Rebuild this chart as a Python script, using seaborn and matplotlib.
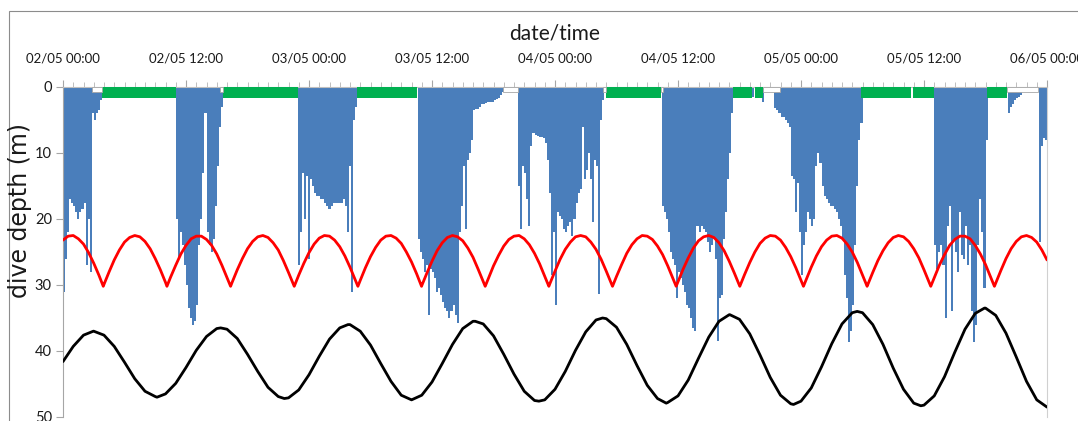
import numpy as np
import pandas as pd
import matplotlib
matplotlib.use("Agg")
import matplotlib.pyplot as plt
from matplotlib.patches import Rectangle
import seaborn as sns

# ---------------------------------------------------------------------------
# Time axis: hours after 02/05 00:00, labelled every 12 h
tick_hours = [0, 12, 24, 36, 48, 60, 72, 84, 96]
tick_labels = ["02/05 00:00", "02/05 12:00", "03/05 00:00", "03/05 12:00",
               "04/05 00:00", "04/05 12:00", "05/05 00:00", "05/05 12:00",
               "06/05 00:00"]

# Red curve (rectified tidal signal), sampled every half hour
red_step = 0.5
red_depth = [
    23.2, 22.6, 22.5, 23.0, 23.8, 25.1, 26.7, 28.5, 29.9, 28.0,
    26.2, 24.7, 23.5, 22.8, 22.5, 22.7, 23.4, 24.5, 26.0, 27.7,
    29.6, 28.8, 27.0, 25.3, 24.0, 23.0, 22.6, 22.6, 23.1, 24.0,
    25.3, 27.0, 28.9, 29.6, 27.7, 26.0, 24.5, 23.4, 22.7, 22.5,
    22.8, 23.6, 24.7, 26.3, 28.1, 30.0, 28.5, 26.7, 25.1, 23.8,
    22.9, 22.5, 22.6, 23.2, 24.2, 25.6, 27.3, 29.2, 29.3, 27.4,
    25.7, 24.3, 23.2, 22.6, 22.5, 22.9, 23.7, 25.0, 26.5, 28.3,
    30.1, 28.2, 26.4, 24.8, 23.6, 22.8, 22.5, 22.7, 23.3, 24.4,
    25.8, 27.6, 29.5, 29.0, 27.1, 25.5, 24.1, 23.1, 22.6, 22.5,
    23.0, 23.9, 25.2, 26.8, 28.7, 29.8, 27.9, 26.1, 24.6, 23.5,
    22.7, 22.5, 22.7, 23.5, 24.6, 26.1, 27.9, 29.8, 28.7, 26.9,
    25.2, 23.9, 23.0, 22.5, 22.6, 23.1, 24.1, 25.4, 27.1, 29.0,
    29.5, 27.6, 25.9, 24.4, 23.3, 22.7, 22.5, 22.8, 23.6, 24.8,
    26.4, 28.2, 30.1, 28.4, 26.6, 25.0, 23.7, 22.9, 22.5, 22.6,
    23.2, 24.3, 25.7, 27.4, 29.3, 29.2, 27.3, 25.6, 24.2, 23.2,
    22.6, 22.5, 22.9, 23.8, 25.0, 26.6, 28.5, 30.0, 28.1, 26.3,
    24.8, 23.6, 22.8, 22.5, 22.7, 23.4, 24.5, 25.9, 27.7, 29.6,
    28.9, 27.0, 25.4, 24.0, 23.1, 22.6, 22.6, 23.0, 24.0, 25.3,
    26.9, 28.8, 29.7, 27.8, 26.0, 24.5, 23.4, 22.7, 22.5, 22.8,
    23.5, 24.7, 26.2,
]
# turning points of the red curve
red_turn_hours = [3.93, 10.14, 16.35, 22.56, 28.77, 34.98, 41.19, 47.40,
                  53.61, 59.82, 66.03, 72.24, 78.45, 84.66, 90.87]
red_turn_depth = [30.2] * 15

# Black curve (tidal height), hourly
black_depth = [
    41.6, 39.3, 37.6, 37.0, 37.6, 39.3, 41.7, 44.2, 46.1, 46.9,
    46.5, 44.9, 42.5, 39.9, 37.8, 36.6, 36.7, 38.1, 40.5, 43.1,
    45.5, 46.9, 47.1, 45.9, 43.6, 40.8, 38.2, 36.5, 36.0, 37.0,
    39.1, 41.9, 44.6, 46.7, 47.4, 46.7, 44.7, 41.9, 39.0, 36.6,
    35.5, 35.9, 37.7, 40.5, 43.5, 46.1, 47.5, 47.4, 45.8, 43.1,
    39.9, 37.1, 35.3, 35.1, 36.4, 39.0, 42.2, 45.2, 47.2, 47.8,
    46.8, 44.4, 41.1, 37.9, 35.5, 34.5, 35.2, 37.4, 40.6, 44.0,
    46.7, 48.0, 47.6, 45.6, 42.4, 38.9, 35.9, 34.2, 34.2, 36.0,
    39.0, 42.6, 45.8, 47.9, 48.2, 46.8, 43.9, 40.2, 36.7, 34.3,
    33.5, 34.6, 37.3, 40.9, 44.6, 47.4, 48.5,
]
# high and low points of the black curve
black_turn_hours = [2.96, 9.17, 15.38, 21.59, 27.80, 34.01, 40.22, 46.43,
                    52.64, 58.85, 65.06, 71.27, 77.48, 83.69, 89.90]
black_turn_depth = [37.0, 47.0, 36.5, 47.2, 36.0, 47.4, 35.5, 47.6,
                    35.0, 47.9, 34.5, 48.1, 34.0, 48.3, 33.5]

# Dive depth records: each bout starts at the given hour, one value per 12 min
dive_step = 0.2
bout_starts = [0.0, 11.0, 22.9, 34.6, 44.4, 58.4, 67.2, 68.2, 69.4, 85.0,
               92.2, 95.2]
bout_01 = [31, 26, 22, 17, 17.5, 18, 19, 20, 19, 18.5, 17.5, 27, 20, 28,
           4, 5, 4, 3.5, 2]
bout_02 = [20, 26, 22, 24, 27, 30, 33.5, 35, 36, 35.5, 33, 24, 20, 13, 4,
           22, 24, 25, 23, 18, 12, 6, 3]
bout_03 = [27, 22, 13, 20, 13.5, 26, 14, 15, 16, 16.5, 16.5, 17, 17, 17.5,
           18, 18.5, 18, 17.5, 17.5, 17.5, 17.5, 17.5, 17, 18, 22, 12, 31,
           5, 3]
bout_04 = [23, 25, 26, 28, 27, 34.5, 27.5, 28, 29, 31, 30.5, 31.5, 32.5,
           33.5, 34, 35, 34, 33, 34.5, 35.8, 22, 18, 12, 21.5, 11, 10, 8,
           3.5, 3.4, 3.3, 3.0, 2.6, 2.5, 2.4, 2.3, 2.2, 2.2, 2.0, 1.8, 1.6,
           1.2, 0.8]
bout_05 = [15, 21.5, 12, 13, 17, 21, 9, 7, 7.2, 7.4, 7.5, 7.5, 7.8, 8.5,
           11, 16, 28.5, 22, 33, 19, 19.5, 20, 21.5, 22, 21, 20.5, 22.5,
           20, 17.5, 16, 15.5, 6, 14, 12.5, 10, 14, 20.5, 11, 12, 31.3, 5, 2]
bout_06 = [18, 19, 20, 22, 25, 26, 27, 32, 28, 29, 30, 31, 33, 33.5, 35,
           36.5, 37, 21, 22, 21, 21.5, 22, 23.5, 25, 24, 23, 26, 38.5, 32,
           31.5, 23, 19, 14, 10, 4]
bout_07 = [1.5]
bout_08 = [2.2]
bout_09 = [3.2, 3.5, 4, 4.5, 4.5, 5, 5.5, 6, 13.5, 14, 19, 14.5, 22, 28.5,
           24, 22, 19, 20, 21, 20, 12, 10, 11.5, 15, 16.5, 17, 17.5, 18, 18,
           18.5, 19, 20, 21, 23, 28.5, 32, 38.6, 37, 33, 24, 15, 8, 5.5]
bout_10 = [24, 27.5, 25, 24, 27, 35, 21, 18, 34, 23, 25, 28, 19, 25.5, 26,
           21, 27, 24, 34, 38.6, 36, 24, 17, 22, 30.5, 8]
bout_11 = [4.0, 3.0, 2.5, 2.0, 1.7, 1.5, 1.2]
bout_12 = [23.5, 9, 7.8, 8]
bouts = [bout_01, bout_02, bout_03, bout_04, bout_05, bout_06, bout_07,
         bout_08, bout_09, bout_10, bout_11, bout_12]

# Surface periods (green) and periods without records (white boxes), hours
surface_start = [3.78, 15.64, 28.65, 52.98, 65.4, 67.5, 77.85, 82.9, 90.18]
surface_end = [11.0, 22.9, 34.57, 58.34, 67.19, 68.3, 82.7, 84.98, 92.13]
surface_depth = 1.7
gap_start = [2.86, 15.3, 42.96, 52.7, 58.34, 68.3, 92.13]
gap_end = [3.78, 15.64, 44.4, 52.98, 58.5, 69.95, 95.15]
gap_depth = 0.7

# ---------------------------------------------------------------------------
sns.set_theme(style="white")
plt.rcParams["font.family"] = ["Lato", "DejaVu Sans"]

W, H = 1078, 421
fig = plt.figure(figsize=(W / 100, H / 100), dpi=100)
ax = fig.add_axes([63 / W, (H - 417) / H, (1047 - 63) / W, (417 - 87) / H])

blue = "#4A7EBB"
for start, depths in zip(bout_starts, bouts):
    edges = start + dive_step * np.arange(len(depths) + 1)
    vals = list(depths) + [depths[-1]]
    ax.fill_between(edges, 0, vals, step="post", color=blue, linewidth=0,
                    zorder=2)

# surface periods and gaps as bars hanging from the surface
s_start = np.array(surface_start)
ax.bar(x=s_start, height=surface_depth,
       width=np.array(surface_end) - s_start, bottom=0, align="edge",
       color="#00B050", linewidth=0, zorder=3)
g_start = np.array(gap_start)
ax.bar(x=g_start, height=gap_depth, width=np.array(gap_end) - g_start,
       bottom=0, align="edge", color="white", edgecolor="#A6A6A6",
       linewidth=0.6, zorder=3)


def with_turns(step_hours, depths, turn_hours, turn_depths):
    """Regular samples merged with the curve's turning points."""
    return pd.concat([
        pd.DataFrame({"hour": np.arange(len(depths)) * step_hours,
                      "depth": depths}),
        pd.DataFrame({"hour": turn_hours, "depth": turn_depths}),
    ]).sort_values("hour")


red_df = with_turns(red_step, red_depth, red_turn_hours, red_turn_depth)
sns.lineplot(data=red_df, x="hour", y="depth", color="#FF0000",
             linewidth=2.0, estimator=None, errorbar=None, sort=False,
             ax=ax, zorder=4)

black_df = with_turns(1.0, black_depth, black_turn_hours, black_turn_depth)
sns.lineplot(data=black_df, x="hour", y="depth", color="black",
             linewidth=2.0, estimator=None, errorbar=None, sort=False,
             ax=ax, zorder=4)

ax.set_xlim(0, 96)
ax.set_ylim(50, 0)
ax.set_xlabel("")
ax.set_ylabel("")

ax.xaxis.tick_top()
ax.set_xticks(tick_hours)
ax.set_xticklabels(tick_labels)
ax.set_xticks(np.arange(0, 97, 1), minor=True)
ax.tick_params(axis="x", which="major", top=True, bottom=False, length=5,
               width=0.8, color="#A6A6A6", labelsize=9.5, pad=11,
               labelcolor="#1a1a1a")
ax.tick_params(axis="x", which="minor", top=True, bottom=False, length=3.5,
               width=0.7, color="#BFBFBF")
ax.set_yticks([0, 10, 20, 30, 40, 50])
ax.tick_params(axis="y", which="major", left=True, length=5, width=0.8,
               color="#A6A6A6", labelsize=10.5, pad=3, labelcolor="#1a1a1a")

ax.spines["bottom"].set_visible(False)
ax.spines["top"].set_color("#BFBFBF")
ax.spines["top"].set_linewidth(0.8)
ax.spines["left"].set_color("#A6A6A6")
ax.spines["left"].set_linewidth(0.8)
ax.spines["right"].set_color("#D0D0D0")
ax.spines["right"].set_linewidth(0.8)
ax.set_facecolor("white")

fig.text(555 / W, 1 - 33 / H, "date/time", ha="center", va="center",
         fontsize=15, color="#1a1a1a")
fig.text(20 / W, 1 - 211 / H, "dive depth (m)", rotation=90, ha="center",
         va="center", fontsize=17, color="#1a1a1a",
         family=["DejaVu Sans"])

# outer chart frame
fig.add_artist(Rectangle((9 / W, -0.2), 1.5, 1.2 - 11 / H,
                         transform=fig.transFigure, fill=False,
                         edgecolor="#8C8C8C", linewidth=0.8))

fig.savefig("out.png", dpi=100, facecolor="white")
